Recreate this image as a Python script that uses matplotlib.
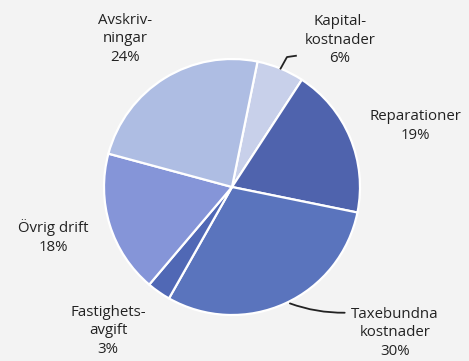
import matplotlib.pyplot as plt
import numpy as np

# Data
labels = ["Kapital-\nkostnader", "Reparationer", "Taxebundna\nkostnader",
          "Fastighets-\navgift", "Övrig drift", "Avskriv-\nningar"]
shares = [6, 19, 30, 3, 18, 24]
colors = ["#c8d0ea", "#4f63ad", "#5a74bd", "#5068b5", "#8595d8", "#aebde3"]

# label positions in pixels (x, y from top)
label_pos = [(340, 40), (415, 126), (395, 333), (108, 331), (53, 237), (125, 39)]

W, H = 469, 361
bg = "#f3f3f3"


def main():
    fig = plt.figure(figsize=(W / 100, H / 100), dpi=100, facecolor=bg)
    cx, cy, r = 232, 187, 128
    ax = fig.add_axes([(cx - r) / W, (H - cy - r) / H, 2 * r / W, 2 * r / H])
    ax.set_facecolor(bg)

    ax.pie(shares, colors=colors, startangle=78.5, counterclock=False, radius=1,
           wedgeprops=dict(edgecolor="white", linewidth=1.6))
    ax.set_xlim(-1, 1)
    ax.set_ylim(-1, 1)
    ax.set_aspect("equal")
    ax.axis("off")

    # text labels
    for lab, s, (px, py) in zip(labels, shares, label_pos):
        fig.text(px / W, 1 - py / H, f"{lab}\n{s}%", ha="center", va="center",
                 fontsize=10.8, family="Open Sans", color="#222222", linespacing=1.3)

    # leader line for Kapital (hook)
    a = np.deg2rad(90 - 22.3)
    x0, y0 = np.cos(a), np.sin(a)
    ax.plot([x0, x0 + 0.05, x0 + 0.12], [y0, y0 + 0.09, y0 + 0.1],
            color="#222222", lw=1.3, clip_on=False)

    # leader line for Taxebundna
    a = np.deg2rad(90 - 154.4)
    x0, y0 = np.cos(a), np.sin(a)
    ax.annotate("", xy=(x0 + 0.47, y0 - 0.08), xytext=(x0, y0),
                arrowprops=dict(arrowstyle="-", color="#222222", lw=1.3,
                                connectionstyle="arc3,rad=0.1"),
                annotation_clip=False)

    plt.savefig("out.png", dpi=100, facecolor=bg)


if __name__ == "__main__":
    main()
